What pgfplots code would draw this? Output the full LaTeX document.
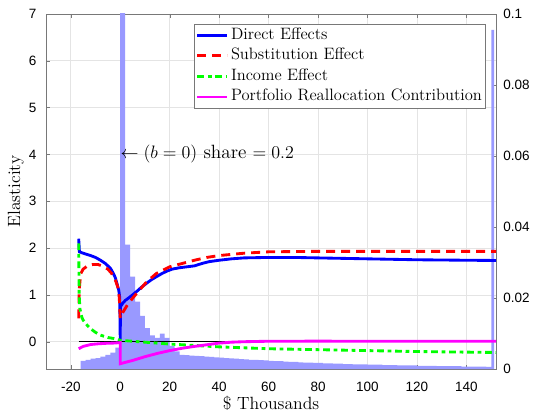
\documentclass[border=0pt]{standalone}
\usepackage{fontspec}
\newfontfamily\tickfont{Liberation Sans}
\usepackage{pgfplots}
\pgfplotsset{compat=1.18}
\definecolor{histblue}{RGB}{153,153,255}
\definecolor{axgray}{RGB}{120,120,120}
\definecolor{gridgray}{RGB}{228,228,228}
\definecolor{lblue}{RGB}{0,0,255}
\definecolor{lred}{RGB}{255,0,0}
\definecolor{lgreen}{RGB}{0,255,0}
\definecolor{lmagenta}{RGB}{255,0,255}

\pgfplotsset{
  base/.style={
    width=300pt,height=236.7pt,scale only axis,
    xmin=-30,xmax=152,
    every tick label/.append style={font=\tickfont\fontsize{9}{10}\selectfont},
    /pgf/number format/assume math mode=true,
    major tick length=2.5pt,
    axis line style={axgray},tick style={axgray},
  },
  lin/.style={line width=1.9pt},
}

\begin{document}
\begin{tikzpicture}
% left axis: box, grid, labels
\begin{axis}[base,name=ax,
  ymin=-0.583,ymax=7,
  xtick={-20,0,20,40,60,80,100,120,140},
  ytick={0,1,2,3,4,5,6,7},
  ytick pos=left,
  grid=major,major grid style={gridgray},
  xticklabel style={anchor=north,inner sep=0pt,yshift=-8.3pt},
  yticklabel style={anchor=east,inner sep=0pt,xshift=-6.3pt},
  xlabel={\$ Thousands},ylabel={Elasticity},
  label style={font=\fontsize{11.8}{14}\selectfont},
  xlabel style={at={(axis description cs:0.5,-0.1153)},anchor=base},
  ylabel style={at={(axis description cs:-0.0577,0.5)},anchor=base},
]
\end{axis}

% right axis: histogram
\begin{axis}[base,
  ymin=0,ymax=0.1,
  axis y line*=right,axis x line=none,
  ytick={0,0.02,0.04,0.06,0.08,0.1},
  scaled y ticks=false,
  yticklabel style={/pgf/number format/fixed,/pgf/number format/precision=2,
    anchor=west,inner sep=0pt,xshift=4.7pt},
]
\addplot[fill=histblue,draw=none,const plot] coordinates {
(-16,0.0023)(-14,0.0026)(-12,0.0029)(-10,0.0031)(-8,0.0035)(-6,0.0040)(-4,0.0046)(-2,0.0060)
(0,0.15)(2,0.035)(4,0.026)(6,0.019)(8,0.015)(10,0.0115)(12,0.0095)(14,0.0088)
(16,0.0100)(18,0.0088)(20,0.0065)(22,0.0050)
(24,0.0040)(26,0.0039)(28,0.0038)(30,0.0037)(32,0.0036)(34,0.0035)(36,0.0034)(38,0.0033)
(40,0.0032)(42,0.0031)(44,0.0030)(46,0.0029)(48,0.0028)(50,0.0027)(52,0.0026)(54,0.0026)
(56,0.0025)(58,0.0024)(60,0.0023)(62,0.0022)(64,0.0022)(66,0.0021)(68,0.0020)(70,0.0020)
(72,0.0019)(74,0.0018)(76,0.0018)(78,0.0017)(80,0.0017)(82,0.0016)(84,0.0016)(86,0.0015)
(88,0.0015)(90,0.0014)(92,0.0014)(94,0.0013)(96,0.0013)(98,0.0013)(100,0.0012)(102,0.0012)
(104,0.0012)(106,0.0011)(108,0.0011)(110,0.0011)(112,0.0010)(114,0.0010)(116,0.0010)(118,0.0010)
(120,0.0009)(122,0.0009)(124,0.0009)(126,0.0009)(128,0.0008)(130,0.0008)(132,0.0008)(134,0.0008)
(136,0.0008)(138,0.0007)(140,0.0007)(142,0.0007)(144,0.0007)(146,0.0007)(148,0.0006)
(150.1,0.0955)(151.2,0.0955)} \closedcycle;
\end{axis}

% left axis again: the effect lines
\begin{axis}[base,hide axis,
  ymin=-0.583,ymax=7,
  legend style={at={(1,1)},anchor=north east,xshift=-6.7pt,yshift=-6.7pt,
    draw=axgray,fill=white,font=\fontsize{11}{13}\selectfont,
    inner xsep=1pt,inner ysep=0.5pt,row sep=0pt,
    nodes={inner ysep=0pt,inner xsep=1.5pt,text height=9.5pt,text depth=4.2pt}},
  legend cell align=left,
  legend image code/.code={\draw[#1] (0pt,0pt) -- (20pt,0pt);},
]
\addplot[black,line width=0.6pt,forget plot] coordinates {(-16.8,0)(152,0)};
\addplot[lin,lblue] coordinates {
(-16.8,2.2)(-16.5,1.92)(-15,1.89)(-12,1.84)(-10,1.80)(-8,1.74)(-6,1.67)(-4,1.57)(-3,1.48)
(-2,1.37)(-1.2,1.22)(-0.6,1.10)(-0.2,0.95)(0,0.05)(0.1,0.75)(1,0.82)(2,0.88)(3.3,0.93)
(5,1.00)(6.6,1.07)(8.5,1.16)(10.7,1.25)(12.5,1.32)(14.7,1.39)(17,1.46)(19,1.51)(21,1.55)
(24,1.58)(27,1.60)(30,1.62)(33,1.67)(36,1.71)(40,1.74)(45,1.77)(50,1.79)(60,1.80)(70,1.80)
(80,1.79)(90,1.78)(100,1.77)(110,1.76)(120,1.75)(130,1.745)(140,1.74)(152,1.735)};
\addlegendentry{Direct Effects}
\addplot[lin,lred,dash pattern=on 6pt off 4pt] coordinates {
(-16.8,0.5)(-16.6,1.1)(-16,1.45)(-15,1.55)(-13,1.63)(-11,1.65)(-9,1.65)(-7,1.61)(-5,1.55)
(-3.5,1.46)(-2,1.32)(-1,1.17)(-0.4,0.95)(0,0.5)(1.2,0.64)(3.3,0.82)(6.6,1.03)(10.7,1.28)
(14.7,1.46)(20,1.60)(25,1.67)(30,1.74)(35,1.80)(40,1.84)(50,1.89)(60,1.92)(80,1.93)
(100,1.93)(152,1.93)};
\addlegendentry{Substitution Effect}
\addplot[lin,lgreen,dash pattern=on 4.5pt off 2.5pt on 2.5pt off 2.5pt] coordinates {
(-16.8,2.1)(-16.6,1.0)(-16.3,0.7)(-15.5,0.52)(-15,0.46)(-13.5,0.36)(-12.3,0.29)(-10,0.20)
(-8,0.14)(-5,0.09)(-2.8,0.07)(0,0.03)(10,-0.01)(20,-0.05)(30,-0.08)(40,-0.11)(50,-0.13)
(60,-0.15)(80,-0.17)(100,-0.19)(120,-0.21)(152,-0.23)};
\addlegendentry{Income Effect}
\addplot[lin,lmagenta] coordinates {
(-16.8,-0.15)(-15,-0.10)(-12,-0.06)(-9,-0.045)(-6,-0.035)(-3,-0.03)(0,-0.02)(0,-0.47)
(5,-0.40)(10,-0.32)(15,-0.25)(20,-0.19)(25,-0.14)(30,-0.10)(35,-0.065)(40,-0.03)(45,-0.01)
(50,0)(60,0.01)(80,0.012)(100,0.01)(152,0.01)};
\addlegendentry{Portfolio Reallocation Contribution}
\node[anchor=west,inner sep=0pt,font=\fontsize{12.8}{15}\selectfont] at (axis cs:0,4)
  {$\leftarrow (b=0)$ share $=0.2$};
\end{axis}

\pgfresetboundingbox
\path[use as bounding box] ([shift={(-30.7pt,-28.7pt)}]ax.south west)
  rectangle ([shift={(25.3pt,9.3pt)}]ax.north east);
\end{tikzpicture}
\end{document}
